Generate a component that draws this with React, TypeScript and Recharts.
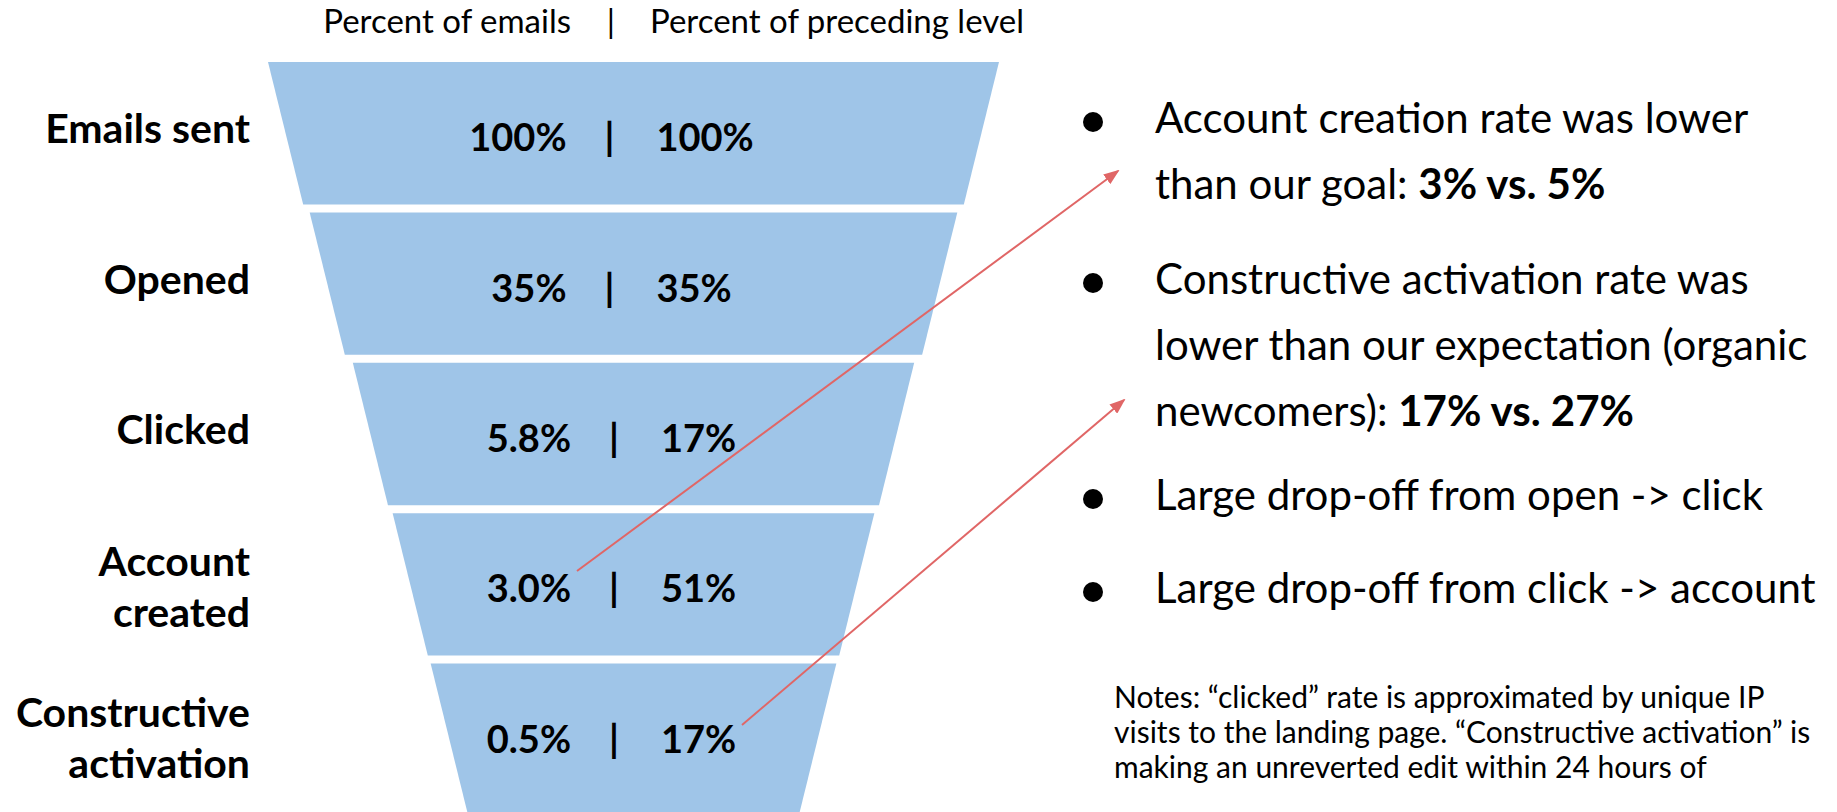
import React from "react";
import { FunnelChart, Funnel } from "recharts";

// funnel levels, top to bottom ("\n" = line break in the row label)
const stages = [
  "Emails sent",
  "Opened",
  "Clicked",
  "Account\ncreated",
  "Constructive\nactivation",
];
const pctOfEmails = ["100%", "35%", "5.8%", "3.0%", "0.5%"];
const pctOfPreceding = ["100%", "35%", "17%", "51%", "17%"];
// relative width of each level as drawn on the slide (decorative funnel)
const funnelSize = [100, 88.6, 76.8, 65.9, 55.5];

const headerLeft = "Percent of emails";
const headerRight = "Percent of preceding level";

// **...** marks bold text
const bullets = [
  ["Account creation rate was lower", "than our goal: **3% vs. 5%**"],
  [
    "Constructive activation rate was",
    "lower than our expectation (organic",
    "newcomers): **17% vs. 27%**",
  ],
  ["Large drop-off from open -> click"],
  ["Large drop-off from click -> account"],
];
const notes = [
  "Notes: \u201cclicked\u201d rate is approximated by unique IP",
  "visits to the landing page. \u201cConstructive activation\u201d is",
  "making an unreverted edit within 24 hours of",
];

const FONT = "Lato, 'Open Sans', sans-serif";
const BLUE = "#9fc5e8";
const RED = "#e06666";
const GAP = 8;
const TAPER = 0.247; // inward slope of each side
const CHART_LEFT = 268;
const CHART_TOP = 62;
const FUNNEL_W = 731;
const LABEL_RIGHT = 250 - CHART_LEFT;

const data = stages.map((stage, i) => ({
  stage,
  size: funnelSize[i],
  emails: pctOfEmails[i],
  preceding: pctOfPreceding[i],
  last: i === stages.length - 1,
}));

function FunnelLevel(props: any) {
  const { x, y, upperWidth, height } = props;
  const p = props.payload ?? props;
  const h = p.last ? height + 12 : height - GAP;
  const inset = TAPER * h;
  const d = `M${x},${y} L${x + upperWidth},${y} L${x + upperWidth - inset},${y + h} L${x + inset},${y + h} Z`;
  const cx = x + upperWidth / 2;
  const cy = y + (height - GAP) / 2;
  const lines = String(p.stage).split("\n");
  return (
    <g>
      <path d={d} fill={BLUE} stroke="none" />
      <text
        x={cx - 22}
        y={cy + 18}
        textAnchor="middle"
        fontFamily={FONT}
        fontWeight="bold"
        fontSize={38}
        fill="#000"
      >
        <tspan>{p.emails}</tspan>
        <tspan dx={38}>|</tspan>
        <tspan dx={42}>{p.preceding}</tspan>
      </text>
      <text
        textAnchor="end"
        fontFamily={FONT}
        fontWeight="bold"
        fontSize={41}
        fill="#000"
      >
        {lines.length === 1 ? (
          <tspan x={LABEL_RIGHT} y={cy + 10}>
            {lines[0]}
          </tspan>
        ) : (
          lines.map((l, k) => (
            <tspan key={k} x={LABEL_RIGHT} y={cy - 8 + k * 51}>
              {l}
            </tspan>
          ))
        )}
      </text>
    </g>
  );
}

function RichLine({ text, x, y }: { text: string; x: number; y: number }) {
  const parts = text.split("**");
  return (
    <text x={x} y={y} fontFamily={FONT} fontSize={42} fill="#000">
      {parts.map((s, i) => (
        <tspan key={i} fontWeight={i % 2 ? "bold" : "normal"}>
          {s}
        </tspan>
      ))}
    </text>
  );
}

const bulletTops = [133, 294, 510, 603];
const LINE = 66;

export default function App() {
  return (
    <div
      style={{
        position: "absolute",
        left: 0,
        top: 0,
        width: 1837,
        height: 812,
        overflow: "hidden",
        background: "#fff",
      }}
    >
      <style>{".recharts-surface{overflow:visible !important}"}</style>
      <div style={{ position: "absolute", left: CHART_LEFT, top: CHART_TOP }}>
        <FunnelChart
          width={FUNNEL_W}
          height={752}
          margin={{ top: 0, right: 0, bottom: 0, left: 0 }}
        >
          <Funnel
            dataKey="size"
            nameKey="stage"
            data={data}
            width={FUNNEL_W}
            lastShapeType="rectangle"
            isAnimationActive={false}
            shape={(props: any) => <FunnelLevel {...props} />}
          />
        </FunnelChart>
      </div>
      <svg
        width={1837}
        height={812}
        style={{ position: "absolute", left: 0, top: 0, pointerEvents: "none" }}
      >
        <defs>
          <marker
            id="arrowHead"
            markerUnits="userSpaceOnUse"
            markerWidth={16}
            markerHeight={12}
            refX={14}
            refY={6}
            orient="auto"
          >
            <path d="M0,0 L16,6 L0,12 Z" fill={RED} />
          </marker>
        </defs>
        <g fontFamily={FONT} fontSize={33} fill="#000">
          <text x={571} y={33} textAnchor="end">
            {headerLeft}
          </text>
          <text x={611} y={33} textAnchor="middle">
            |
          </text>
          <text x={650} y={33}>
            {headerRight}
          </text>
        </g>
        {bullets.map((lines, b) => (
          <g key={b}>
            <circle cx={1093} cy={bulletTops[b] - 11} r={10} fill="#000" />
            {lines.map((l, k) => (
              <RichLine key={k} text={l} x={1155} y={bulletTops[b] + k * LINE} />
            ))}
          </g>
        ))}
        {notes.map((l, k) => (
          <text
            key={k}
            x={1114}
            y={708 + k * 35}
            fontFamily={FONT}
            fontSize={30}
            fill="#000"
          >
            {l}
          </text>
        ))}
        <line
          x1={577}
          y1={571}
          x2={1118}
          y2={171}
          stroke={RED}
          strokeWidth={2}
          markerEnd="url(#arrowHead)"
        />
        <line
          x1={742}
          y1={725}
          x2={1124}
          y2={400}
          stroke={RED}
          strokeWidth={2}
          markerEnd="url(#arrowHead)"
        />
      </svg>
    </div>
  );
}
